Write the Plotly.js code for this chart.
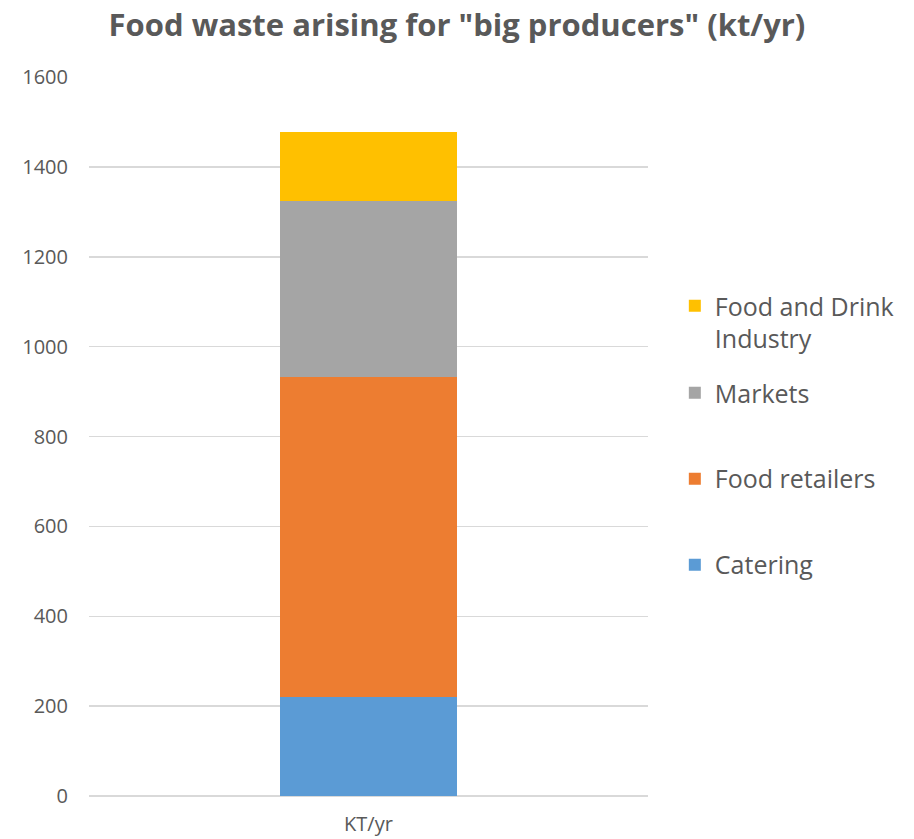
<!DOCTYPE html>
<html>
<head>
<meta charset="utf-8">
<script src="https://cdn.plot.ly/plotly-3.0.1.min.js"></script>
<style>html,body{margin:0;padding:0;background:#fff;}#chart{width:914px;height:839px;}</style>
</head>
<body>
<div id="chart"></div>
<script>
const categories = ["KT/yr"];
const seriesNames = ["Catering", "Food retailers", "Markets", "Food and Drink<br>Industry"];
const catering = [220];
const foodRetailers = [713];
const markets = [392];
const foodDrinkIndustry = [152];
const colors = ["#5B9BD5", "#ED7D31", "#A5A5A5", "#FFC000"];
const yTicks = [0, 200, 400, 600, 800, 1000, 1200, 1400, 1600];

const values = [catering, foodRetailers, markets, foodDrinkIndustry];
const legendIds = ["legend4", "legend3", "legend2", "legend"];
const legendY = [0.3213, 0.4409, 0.5605, 0.6592];

const traces = values.map((v, i) => ({
  type: "bar",
  x: categories,
  y: v,
  name: seriesNames[i],
  legend: legendIds[i],
  marker: {color: colors[i], line: {width: 0}},
  hoverinfo: "none"
}));

const legendBase = {
  x: 1.048, xanchor: "left", yanchor: "middle",
  font: {size: 25, color: "#595959"},
  bgcolor: "rgba(0,0,0,0)"
};

const layout = {
  width: 914, height: 839,
  margin: {l: 89, r: 266, t: 77, b: 43},
  paper_bgcolor: "#fff", plot_bgcolor: "#fff",
  barmode: "stack",
  bargap: 0.685,
  font: {family: "Open Sans, sans-serif", color: "#595959"},
  title: {
    text: "<b>Food waste arising for \"big producers\" (kt/yr)</b>",
    font: {family: "Open Sans, sans-serif", size: 31, color: "#595959"},
    x: 0.5, xanchor: "center", xref: "container",
    y: 0.97, yanchor: "middle", yref: "container"
  },
  xaxis: {
    showgrid: false, zeroline: false, showline: false,
    ticks: "", ticklabelstandoff: 14, tickfont: {size: 20, color: "#595959"}
  },
  yaxis: {
    range: [0, 1600], tickvals: yTicks, ticktext: yTicks.map(String),
    showgrid: true, gridcolor: "#D9D9D9", gridwidth: 1.5,
    zeroline: true, zerolinecolor: "#D9D9D9", zerolinewidth: 1.5,
    showline: false, ticks: "", ticklabelstandoff: 20,
    tickfont: {size: 20, color: "#595959"}
  },
  showlegend: true
};
legendIds.forEach((id, i) => {
  layout[id] = Object.assign({}, legendBase, {y: legendY[i]});
});
layout.legend.valign = "top";

Plotly.newPlot("chart", traces, layout, {displayModeBar: false, staticPlot: true});
</script>
</body>
</html>
